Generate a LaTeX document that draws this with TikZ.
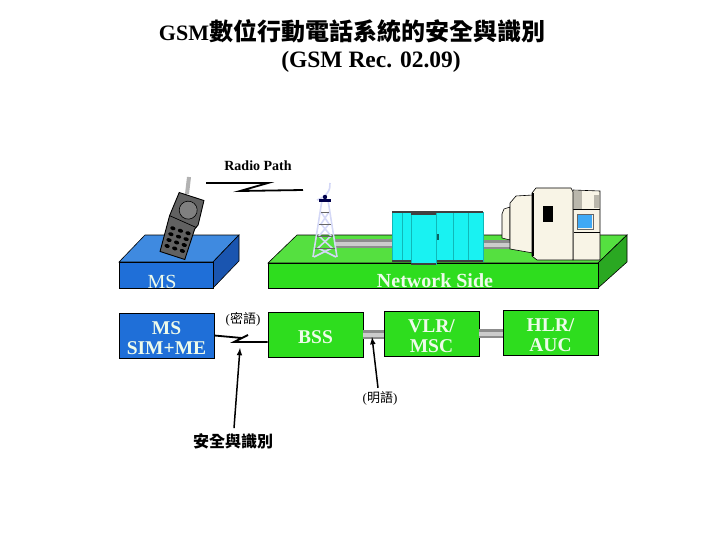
\documentclass[tikz,border=0pt]{standalone}
\usepackage{fontspec}
\setmainfont{Liberation Serif}
\newfontfamily\cjk{Noto Sans CJK TC}
\usetikzlibrary{positioning, arrows, calc}
\definecolor{msblue}{HTML}{1F6FD8}
\definecolor{mstop}{HTML}{3F8AE0}
\definecolor{msside}{HTML}{1A55B0}
\definecolor{netgreen}{HTML}{2EDD1E}
\definecolor{nettop}{HTML}{55E040}
\definecolor{netside}{HTML}{2AA822}
\definecolor{cream}{HTML}{F8F4E6}
\definecolor{cabcol}{HTML}{19F2F2}
\definecolor{cabline}{HTML}{10B8B8}
\definecolor{towercol}{HTML}{D4D8F6}
\definecolor{screencol}{HTML}{3FA9F5}
\definecolor{softwhite}{HTML}{EEFBEA}
\newcommand{\boxstrut}{\rule{0pt}{19pt}}
\tikzset{
  box/.style={draw=black, fill=netgreen, line width=0.8pt, minimum width=95pt, minimum height=45pt, align=center, inner sep=0pt, text=softwhite, font=\fontsize{19.5}{20}\selectfont\bfseries},
  lbl/.style={inner sep=0pt, align=center},
  pipe/.style={draw=gray!90, double=gray!40, double distance=4pt, line width=2.5pt},
  bolt/.style={draw=black, line width=1.8pt, line join=miter},
  pointer/.style={-latex, line width=1.5pt},
  cabinet/.style={fill=cabcol, draw=cabline, line width=0.4pt},
  mainframe/.style={fill=cream, draw=black, line width=0.6pt},
  tower/.style={draw=towercol, line width=1.6pt}
}
\begin{document}
\begin{tikzpicture}[x=1pt, y=-1pt]
\useasboundingbox (0,0) rectangle (720,540);
\node (title) at (352,31) [lbl] {\fontsize{22}{24}\selectfont\bfseries GSM{\fontsize{24}{24}\selectfont\cjk 數位行動電話系統的安全與識別}};
\node (rec) at (371,61.5) [lbl] {\fontsize{23.5}{24}\selectfont\bfseries (GSM Rec. 02.09)};
\node (radio) at (258,166) [lbl] {\fontsize{14}{14}\selectfont\bfseries Radio Path};

\filldraw[fill=mstop, draw=black, line width=0.6pt] (119,262) -- (145,235) -- (239,235) -- (213,262) -- cycle;
\filldraw[fill=msside, draw=black, line width=0.6pt] (213,262) -- (239,235) -- (239,261) -- (213,288) -- cycle;
\filldraw[fill=msblue, draw=black, line width=0.6pt] (119,262) rectangle (213,288);
\node (ms) at (162,282) [lbl, text=softwhite] {\fontsize{20}{20}\selectfont MS};

\filldraw[fill=nettop, draw=black, line width=0.6pt] (268,263) -- (297,235) -- (627,235) -- (598,263) -- cycle;
\filldraw[fill=netside, draw=black, line width=0.6pt] (598,263) -- (627,235) -- (627,262) -- (598,288) -- cycle;
\filldraw[fill=netgreen, draw=black, line width=0.6pt] (268,263) rectangle (598,288);
\node (net) at (435,281) [lbl, text=softwhite] {\fontsize{20}{20}\selectfont\bfseries Network Side};

\draw[pipe] (335,243.5) -- (392,243.5);
\draw[pipe] (483,244.5) -- (515,244.5);

\draw[line width=4pt, gray!60] (189,177) -- (187,194);
\begin{scope}[shift={(182,226)}, rotate=-18]
\filldraw[fill=black!62, draw=black, line width=0.9pt] (-13,-31) -- (13,-31) -- (15,-6) -- (13,-1) -- (13,31) -- (-13,31) -- (-15,-6) -- cycle;
\filldraw[fill=black!50, draw=black, line width=0.6pt] (1,-17) circle (9);
\draw[black, line width=0.7pt] (-15,-6) -- (14,-3);
\foreach \i in {0,1,2} \foreach \j in {0,1,2,3}
  \fill[black] (-8+\i*8,5+\j*6.2) ellipse (2.7 and 1.9);
\end{scope}

\draw[tower] (330,183) .. controls (331,190) and (326,197) .. (317,200);
\draw[tower] (322,200) -- (313,257) (328,200) -- (337,257);
\draw[tower] (321,212) -- (329,224) -- (319,236) -- (332,248) -- (314,257);
\draw[tower] (329,212) -- (321,224) -- (331,236) -- (318,248) -- (336,257);
\foreach \y/\a/\b in {212/321/329, 224/319/331, 236/317/333, 248/315/335}
  \draw[black!60, line width=0.7pt] (\a,\y) -- (\b,\y);
\fill[black!70!blue] (319,199) rectangle (331,202);
\fill[black!70!blue] (325,197) circle (2.2);

\filldraw[cabinet] (392,212) rectangle (483,261);
\fill[black!75] (392,211) rectangle (483,213);
\fill[black!75] (392,260) rectangle (483,262);
\foreach \x in {402,411,436,453,468}
  \draw[cabline, line width=0.5pt] (\x,213) -- (\x,260);
\filldraw[cabinet] (411,214) rectangle (436,264);
\fill[black!75] (411,212) rectangle (436,215);
\fill[black!75] (411,263) rectangle (436,265);
\fill[black!60!cabcol] (437,234) rectangle (439,240);

\filldraw[mainframe] (510,207) -- (504,209) -- (502,214) -- (502,238) -- (510,240) -- cycle;
\filldraw[mainframe] (533,195) -- (516,196) -- (510,203) -- (510,249) -- (533,253) -- cycle;
\filldraw[mainframe] (573,190) -- (600,191) -- (600,260) -- (573,260) -- cycle;
\fill[black!25!cream] (572,191) rectangle (582,210);
\fill[black!25!cream] (594,195) rectangle (599,208);
\draw[black, line width=1pt] (573,210) -- (600,210);
\draw[black, line width=0.5pt] (574,232) -- (600,232);
\filldraw[mainframe] (536,188) -- (571,188) -- (573,192) -- (573,260) -- (537,260) -- (532,256) -- (532,193) -- cycle;
\draw[black, line width=2pt] (533,193) -- (533,256);
\fill[black] (543,206) rectangle (553,222);
\fill[screencol] (578,215) rectangle (592,228);
\draw[black!60, line width=0.6pt] (577,214) rectangle (593,229);

\node (sim) at (166.5,335.5) [box, fill=msblue] {\boxstrut MS\\SIM+ME};
\node (bss) at (315.5,334.5) [box] {\boxstrut BSS};
\node (vlr) at (431.5,333.5) [box] {\boxstrut VLR/\\MSC};
\node (hlr) at (550.5,332.5) [box] {\boxstrut HLR/\\AUC};
\draw[pipe] (bss.east) -- (bss.east -| vlr.west);
\draw[pipe] (vlr.east) -- (vlr.east -| hlr.west);

\coordinate (ra) at (206,183);
\coordinate (rb) at (268,183);
\coordinate (rc) at (240,191);
\coordinate (rd) at (303,190);
\draw[bolt] (ra) -- (rb) -- (rc) -- (rd);
\coordinate (za) at (242,338);
\coordinate (zb) at (248,335);
\coordinate (zc) at (234,342);
\draw[bolt] (sim.east) -- (za) -- (zb) -- (zc) -- (bss.west |- zc);

\node (ciph) at (243,319) [lbl] {\fontsize{13}{14}\selectfont ({\cjk 密語})};
\node (plain) at (380,398) [lbl] {\fontsize{13}{14}\selectfont ({\cjk 明語})};
\node (sec) at (233,441) [lbl] {\fontsize{16}{17}\selectfont\bfseries\cjk 安全與識別};
\coordinate (sectip) at (240,348);
\coordinate (plaintip) at (372,337);
\draw[pointer] (sec.north) ++(1,-5) -- (sectip);
\draw[pointer] (plain.north) ++(-2,-3) -- (plaintip);
\end{tikzpicture}
\end{document}
